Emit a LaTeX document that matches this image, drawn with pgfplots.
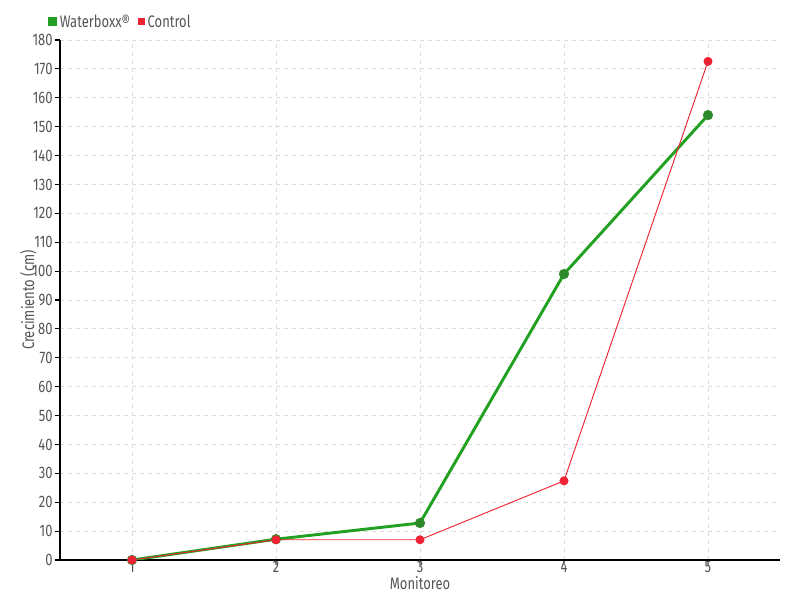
\documentclass[border=0pt]{standalone}
\usepackage{pgfplots}
\pgfplotsset{compat=1.18}
\usepackage{fontspec}
\setmainfont[FakeStretch=0.78]{Fira Sans}
\definecolor{txt}{HTML}{555555}
\definecolor{gridc}{HTML}{DDDDDD}
\definecolor{gline}{HTML}{22A022}
\definecolor{gmark}{HTML}{2A8A2A}
\definecolor{rline}{HTML}{EE2233}
\begin{document}
\begin{tikzpicture}
\begin{axis}[
  at={(0,0)}, anchor=south west,
  scale only axis, width=540pt, height=390pt,
  xmin=0.5, xmax=5.5, ymin=0, ymax=180,
  xtick={1,2,3,4,5}, ytick distance=10,
  axis x line*=bottom, axis y line*=left,
  axis line style={black, line width=0.9pt, -},
  grid=major, major grid style={gridc, dashed, line width=0.6pt},
  tick style={line width=0.8pt},
  x tick style={txt!70}, y tick style={black},
  tick align=outside, major tick length=4pt,
  ticklabel style={font=\fontsize{12.5}{13}\selectfont, text=txt},
  xticklabel style={yshift=4pt, inner ysep=1pt},
  yticklabel style={xshift=2pt},
  /pgf/number format/assume math mode=true,
  xlabel={Monitoreo}, ylabel={Crecimiento (cm)},
  label style={font=\fontsize{12.5}{13}\selectfont, text=txt},
  xlabel style={at={(axis description cs:0.5,0)}, anchor=north, yshift=-12pt, inner sep=0pt},
  ylabel style={yshift=-10pt},
  legend style={at={(-9pt,390pt+13.5pt)}, anchor=west, draw=none, fill=none,
    font=\fontsize{12.5}{13}\selectfont, text=txt, legend columns=2,
    /tikz/every even column/.append style={column sep=4pt},
    inner sep=0pt},
  legend cell align=left,
  legend image code/.code={\fill[#1] (0pt,-2pt) rectangle (4.5pt,2.5pt);},
]
\addplot[gline, line width=2.2pt, mark=*, mark size=3.6pt,
  mark options={fill=gmark, draw=gmark, line width=0.4pt}]
  coordinates {(1,0) (2,7.2) (3,12.8) (4,99) (5,154)};
\addlegendentry{Waterboxx®}
\addplot[rline, line width=0.7pt, mark=*, mark size=3pt,
  mark options={fill=rline, draw=rline}]
  coordinates {(1,0) (2,7) (3,7) (4,27.4) (5,172.6)};
\addlegendentry{Control}
\end{axis}
\path[use as bounding box] (-45pt,-30pt) rectangle (555pt,420pt);
\end{tikzpicture}
\end{document}
